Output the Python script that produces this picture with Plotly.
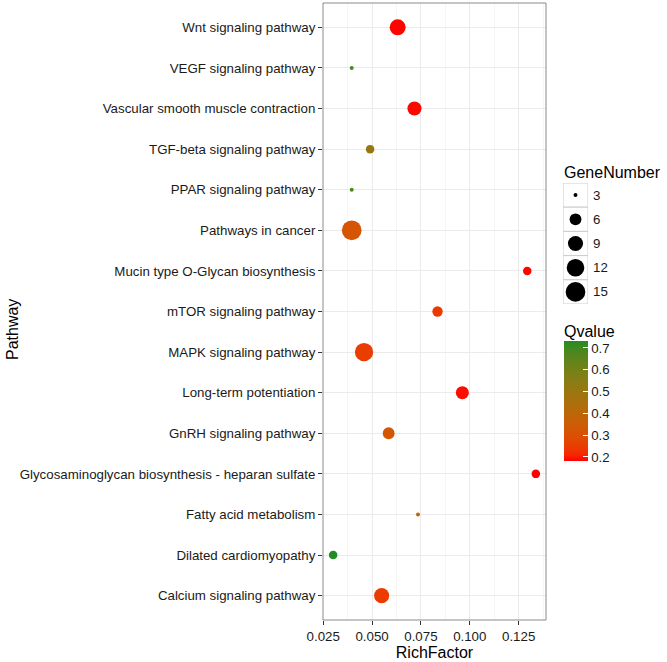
import numpy as np
import plotly.graph_objects as go

# ---------------- data ----------------
pathways = [
    "Calcium signaling pathway",
    "Dilated cardiomyopathy",
    "Fatty acid metabolism",
    "Glycosaminoglycan biosynthesis - heparan sulfate",
    "GnRH signaling pathway",
    "Long-term potentiation",
    "MAPK signaling pathway",
    "mTOR signaling pathway",
    "Mucin type O-Glycan biosynthesis",
    "Pathways in cancer",
    "PPAR signaling pathway",
    "TGF-beta signaling pathway",
    "Vascular smooth muscle contraction",
    "VEGF signaling pathway",
    "Wnt signaling pathway",
]
rich_factor = [0.0549, 0.0301, 0.0735, 0.1338, 0.0585, 0.0962, 0.0459, 0.0835,
               0.1294, 0.0396, 0.0396, 0.0490, 0.0717, 0.0396, 0.0631]
gene_number = [9, 4, 3, 4, 6, 7, 13, 5, 4, 15, 3, 4, 8, 3, 10]
qvalue = [0.245, 0.732, 0.385, 0.1815, 0.322, 0.190, 0.250, 0.238,
          0.186, 0.318, 0.675, 0.515, 0.188, 0.680, 0.184]

legend_genes = [3, 6, 9, 12, 15]
q_ticks = [0.2, 0.3, 0.4, 0.5, 0.6, 0.7]
x_ticks = [0.025, 0.050, 0.075, 0.100, 0.125]
x_tick_labels = ["0.025", "0.050", "0.075", "0.100", "0.125"]

# ---------------- styling helpers ----------------
LOW = (255, 0, 0)        # red
HIGH = (34, 139, 34)     # forestgreen


def _lin(c):
    c = c / 255.0
    return ((c + 0.055) / 1.055) ** 2.4 if c > 0.04045 else c / 12.92


def _delin(c):
    c = 1.055 * c ** (1 / 2.4) - 0.055 if c > 0.0031308 else 12.92 * c
    return int(round(min(max(c, 0), 1) * 255))


WP = (0.95047, 1.0, 1.08883)


def rgb2lab(rgb):
    r, g, b = [_lin(v) for v in rgb]
    X = r * 0.4124 + g * 0.3576 + b * 0.1805
    Y = r * 0.2126 + g * 0.7152 + b * 0.0722
    Z = r * 0.0193 + g * 0.1192 + b * 0.9505
    def f(t):
        return t ** (1 / 3) if t > 0.008856 else 7.787 * t + 16 / 116
    fx, fy, fz = f(X / WP[0]), f(Y / WP[1]), f(Z / WP[2])
    return (116 * fy - 16, 500 * (fx - fy), 200 * (fy - fz))


def lab2rgb(lab):
    L, a, b = lab
    fy = (L + 16) / 116
    fx = fy + a / 500
    fz = fy - b / 200
    def finv(t):
        return t ** 3 if t ** 3 > 0.008856 else (t - 16 / 116) / 7.787
    X, Y, Z = finv(fx) * WP[0], finv(fy) * WP[1], finv(fz) * WP[2]
    r = X * 3.2406 + Y * -1.5372 + Z * -0.4986
    g = X * -0.9689 + Y * 1.8758 + Z * 0.0415
    bb = X * 0.0557 + Y * -0.2040 + Z * 1.0570
    return "rgb(%d,%d,%d)" % (_delin(r), _delin(g), _delin(bb))


lab_lo, lab_hi = rgb2lab(LOW), rgb2lab(HIGH)
colorscale = []
for i in range(21):
    t = i / 20
    lab = tuple(lab_lo[k] + (lab_hi[k] - lab_lo[k]) * t for k in range(3))
    colorscale.append([t, lab2rgb(lab)])

gmin, gmax = min(gene_number), max(gene_number)


def diameter(n):
    n = np.asarray(n, dtype=float)
    s = 1 + 5 * np.sqrt((n - gmin) / (gmax - gmin))
    return 3.15 * s + 0.8


# ---------------- layout geometry (pixels) ----------------
W, H = 667, 662
L_M, R_M, T_M, B_M = 323, 0, 3, 42
PW = W - L_M - R_M
PH = H - T_M - B_M


def px_x(px):
    return (px - L_M) / PW


def px_y(py):
    return (H - B_M - py) / PH


TEXT = "#1a1a1a"
FONT = "Liberation Sans, Arial, Helvetica, sans-serif"
TICK_SIZE = 13.3

fig = go.Figure()

fig.add_trace(go.Scatter(
    x=rich_factor, y=pathways, mode="markers",
    marker=dict(
        size=diameter(gene_number), color=qvalue, colorscale=colorscale,
        cmin=min(qvalue), cmax=max(qvalue), line=dict(width=0), opacity=1,
        colorbar=dict(
            thickness=24, lenmode="pixels", len=119.5,
            x=px_x(564), xanchor="left", xpad=0,
            y=px_y(461), yanchor="bottom", ypad=0,
            outlinewidth=0, ticks="inside", tickcolor="white", ticklen=5,
            tickwidth=1, tickvals=q_ticks,
            tickfont=dict(size=TICK_SIZE, color=TEXT, family=FONT),
        ),
    ),
    showlegend=False, hoverinfo="x+y",
))

# size legend drawn on its own small axis pair
legend_pos = [len(legend_genes) - i for i in range(len(legend_genes))]
fig.add_trace(go.Scatter(
    x=[0.5] * len(legend_genes), y=legend_pos, mode="markers",
    marker=dict(size=diameter(legend_genes), color="#000000", opacity=1,
                line=dict(width=0)),
    opacity=1, xaxis="x2", yaxis="y2", showlegend=False, hoverinfo="skip",
))

shapes = []
annotations = []
for g, yv in zip(legend_genes, legend_pos):
    shapes.append(dict(type="rect", xref="x2", yref="y2", x0=0, x1=1,
                       y0=yv - 0.5, y1=yv + 0.5, layer="below",
                       line=dict(color="#CCCCCC", width=1), fillcolor="white"))
    annotations.append(dict(x=1, y=yv, xref="x2", yref="y2", text=str(g),
                            showarrow=False, xanchor="left", xshift=3,
                            font=dict(size=TICK_SIZE, color=TEXT, family=FONT)))

annotations.append(dict(x=px_x(562), y=px_y(172), xref="paper", yref="paper",
                        text="GeneNumber", showarrow=False, xanchor="left",
                        yanchor="middle", font=dict(size=16, color="black", family=FONT)))
annotations.append(dict(x=px_x(562), y=px_y(331), xref="paper", yref="paper",
                        text="Qvalue", showarrow=False, xanchor="left",
                        yanchor="middle", font=dict(size=16, color="black", family=FONT)))
annotations.append(dict(x=px_x(12), y=px_y(330), xref="paper", yref="paper",
                        text="Pathway", showarrow=False, textangle=-90,
                        xanchor="center", yanchor="middle",
                        font=dict(size=16, color="black", family=FONT)))

# panel border
shapes.append(dict(type="rect", xref="paper", yref="paper", x0=0, x1=px_x(546),
                   y0=0, y1=1, line=dict(color="#8a8a8a", width=1), layer="above"))

fig.update_layout(
    width=W, height=H,
    margin=dict(l=L_M, r=R_M, t=T_M, b=B_M),
    paper_bgcolor="white", plot_bgcolor="white",
    font=dict(family=FONT, color=TEXT),
    showlegend=False,
    xaxis=dict(
        domain=[0, px_x(546)], range=[0.0249, 0.1390],
        tickvals=x_ticks, ticktext=x_tick_labels,
        ticks="outside", ticklen=4, tickcolor="#333333", tickwidth=1,
        tickfont=dict(size=TICK_SIZE, color=TEXT),
        showgrid=True, gridcolor="#EBEBEB", gridwidth=1,
        minor=dict(dtick=0.0125, tick0=0.025, showgrid=True,
                   gridcolor="#F5F5F5", gridwidth=0.6, ticks=""),
        zeroline=False, showline=False,
        title=dict(text="RichFactor", font=dict(size=16, color="black"), standoff=3),
    ),
    yaxis=dict(
        domain=[0, 1], type="category", categoryorder="array",
        categoryarray=pathways, range=[-0.6, len(pathways) - 0.4],
        ticks="outside", ticklen=4, tickcolor="#333333", tickwidth=1,
        tickfont=dict(size=TICK_SIZE, color=TEXT),
        showgrid=True, gridcolor="#EBEBEB", gridwidth=1,
        zeroline=False, showline=False,
    ),
    xaxis2=dict(domain=[px_x(563), px_x(588)], range=[0, 1], anchor="y2",
                visible=False, fixedrange=True),
    yaxis2=dict(domain=[px_y(304), px_y(183)], range=[0.5, len(legend_genes) + 0.5],
                anchor="x2", visible=False, fixedrange=True),
    shapes=shapes,
    annotations=annotations,
)

fig.write_html("out.html",
               config={"displayModeBar": False},
               post_script="document.body.style.margin='0px';"
                           "document.body.style.padding='0px';")
